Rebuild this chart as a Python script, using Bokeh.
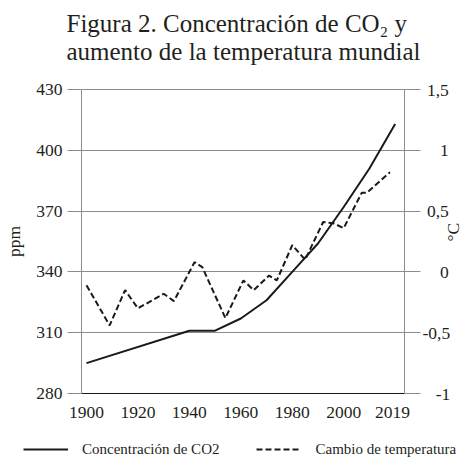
import math
from bokeh.plotting import figure
from bokeh.layouts import column
from bokeh.models import (Range1d, LinearAxis, FixedTicker, Title, Span,
                          Legend, LegendItem)
from bokeh.embed import file_html
from bokeh.resources import INLINE

# ---------------- data ----------------
co2_years = [1900, 1940, 1950, 1960, 1970, 1980, 1990, 2000, 2010, 2020]
co2_ppm = [295, 311, 311, 317, 326, 340, 354, 372, 391, 413]

temp_years = [1900, 1909, 1915, 1920, 1930, 1934, 1942, 1945, 1954, 1961, 1965,
              1971, 1974, 1980, 1985, 1992, 1996, 2000, 2007, 2009, 2018]
temp_change = [-0.11, -0.44, -0.15, -0.30, -0.18, -0.24, 0.08, 0.04, -0.38, -0.07,
               -0.15, -0.03, -0.07, 0.22, 0.10, 0.41, 0.40, 0.36, 0.65, 0.65, 0.82]

x_ticks = [1900, 1920, 1940, 1960, 1980, 2000, 2019]
ppm_ticks = [280, 310, 340, 370, 400, 430]
temp_ticks = [1.5, 1, 0.5, 0, -0.5, -1]
temp_tick_labels = ["1,5", "1", "0,5", "0", "-0,5", "-1"]

title_lines = ["Figura 2. Concentración de CO\u2082 y", "aumento de la temperatura mundial"]
series_names = ["Concentración de CO2", "Cambio de temperatura"]

# ---------------- style ----------------
FONT = "Liberation Serif"
TXT = "#231f20"
GRID = "#8c8c8c"
LINE = "#1a1a1a"
XMIN, XMAX = 1898.06, 2023.64


def right_align(labels):
    """pad labels with figure/punctuation spaces so they look right-aligned"""
    def w(s):
        return sum(0.5 if c.isdigit() else 0.25 if c == "," else 0.333 for c in s)
    mx = max(w(s) for s in labels)
    out = []
    for s in labels:
        d = mx - w(s)
        n7 = int(d // 0.5)
        n8 = int(round((d - 0.5 * n7) / 0.25))
        out.append("\u2007" * n7 + "\u2008" * n8 + s)
    return out


def no_frame_align(fig):
    if "frame_align" in fig.properties():
        fig.frame_align = False


# ---------------- title strip ----------------
tt = figure(width=476, height=78, output_backend="svg", toolbar_location=None,
            x_range=Range1d(0, 1), y_range=Range1d(0, 1),
            min_border_left=10, min_border_right=0, min_border_top=0,
            min_border_bottom=0, x_axis_location=None, y_axis_location=None)
tt.outline_line_color = None
tt.grid.visible = False
tt.add_layout(Title(text="\n".join(title_lines), align="center", text_font=FONT,
                    text_font_size="25px", text_font_style="normal", text_color=TXT,
                    text_line_height=1.04, standoff=16), "above")

# ---------------- main chart ----------------
p = figure(width=476, height=352, output_backend="svg", toolbar_location=None,
           x_range=Range1d(XMIN, XMAX), y_range=Range1d(280, 430),
           min_border_left=81, min_border_right=71, min_border_top=11,
           min_border_bottom=37, x_axis_location=None, y_axis_location=None)
p.extra_y_ranges = {"t": Range1d(-1, 1.5)}
p.outline_line_color = None
p.background_fill_color = "white"
p.border_fill_color = "white"

# left axis
la = LinearAxis(ticker=FixedTicker(ticks=ppm_ticks), axis_label="ppm")
la.axis_line_color = GRID
la.major_tick_line_color = GRID
la.major_tick_out = 14
la.major_tick_in = 0
la.minor_tick_line_color = None
la.major_label_standoff = 5
la.major_label_text_font = FONT
la.major_label_text_font_size = "17.5px"
la.major_label_text_color = TXT
la.axis_label_text_font = FONT
la.axis_label_text_font_size = "17.5px"
la.axis_label_text_font_style = "normal"
la.axis_label_text_color = TXT
la.axis_label_standoff = 9
p.add_layout(la, "left")

# right axis
ra = LinearAxis(y_range_name="t", ticker=FixedTicker(ticks=temp_ticks), axis_label="°C")
ra.axis_line_color = GRID
ra.major_tick_line_color = GRID
ra.major_tick_out = 16
ra.major_tick_in = 0
ra.minor_tick_line_color = None
ra.major_label_overrides = dict(zip(temp_ticks, right_align(temp_tick_labels)))
ra.major_label_standoff = 2
ra.major_label_text_font = FONT
ra.major_label_text_font_size = "17.5px"
ra.major_label_text_color = TXT
ra.axis_label_text_font = FONT
ra.axis_label_text_font_size = "17.5px"
ra.axis_label_text_font_style = "normal"
ra.axis_label_text_color = TXT
ra.axis_label_text_line_height = 0.5
ra.axis_label_standoff = 0
ra.axis_label_orientation = math.pi / 2
p.add_layout(ra, "right")

# bottom axis
ba = LinearAxis(ticker=FixedTicker(ticks=x_ticks))
ba.axis_line_color = LINE
ba.major_tick_out = 0
ba.major_tick_in = 0
ba.major_tick_line_color = None
ba.minor_tick_line_color = None
ba.major_label_standoff = 13
ba.major_label_text_font = FONT
ba.major_label_text_font_size = "17.5px"
ba.major_label_text_color = TXT
p.add_layout(ba, "below")

# grid
p.xgrid.visible = False
p.ygrid.ticker = FixedTicker(ticks=ppm_ticks)
p.ygrid.grid_line_color = GRID
p.ygrid.grid_line_width = 1
p.add_layout(Span(location=430, dimension="width", line_color=LINE, line_width=1))

# series
r1 = p.line(co2_years, co2_ppm, line_color=LINE, line_width=2)
r2 = p.line(temp_years, temp_change, y_range_name="t", line_color=LINE,
            line_width=2, line_dash="6 3")

# ---------------- legend strip ----------------
lg = figure(width=476, height=32, output_backend="svg", toolbar_location=None,
            x_range=Range1d(0, 1), y_range=Range1d(0, 1),
            min_border_left=0, min_border_right=0, min_border_top=0, min_border_bottom=0,
            x_axis_location=None, y_axis_location=None)
lg.outline_line_color = None
lg.grid.visible = False
# same series, drawn outside this strip's view; only their legend glyphs show
lr1 = lg.line(co2_years, co2_ppm, line_color=LINE, line_width=2)
lr2 = lg.line(temp_years, temp_change, line_color=LINE, line_width=2, line_dash="6 3")
legend = Legend(items=[LegendItem(label=series_names[0], renderers=[lr1]),
                       LegendItem(label=series_names[1], renderers=[lr2])],
                location=(23, 3), orientation="horizontal",
                border_line_color=None, background_fill_alpha=0,
                padding=0, margin=0, spacing=37, label_standoff=14,
                glyph_width=45, glyph_height=20, label_height=20,
                label_text_font=FONT, label_text_font_size="15px",
                label_text_color=TXT)
lg.add_layout(legend, "center")

for fig in (tt, p, lg):
    no_frame_align(fig)

open("out.html", "w").write(file_html(column(tt, p, lg, spacing=0), INLINE))
